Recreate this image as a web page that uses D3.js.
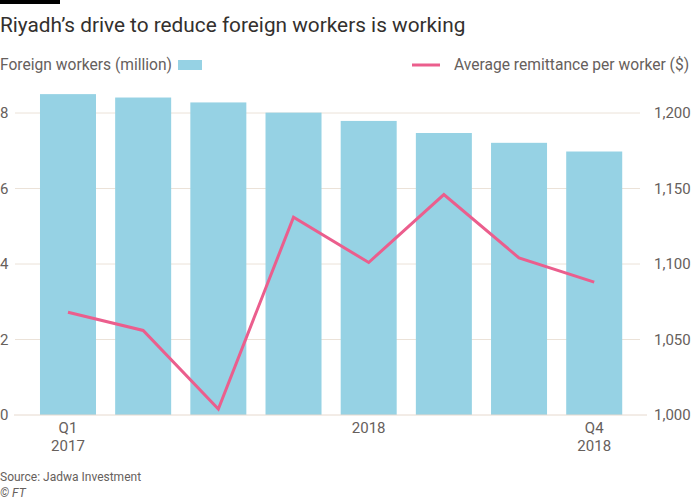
<!DOCTYPE html>
<html><head><meta charset="utf-8">
<script src="https://cdn.jsdelivr.net/npm/d3@7"></script>
<style>
html,body{margin:0;padding:0;background:#fff;}
svg{display:block;}
text{font-family:Roboto, "Noto Sans", sans-serif;}
</style></head>
<body>
<svg id="c" width="700" height="500"></svg>
<script>
const categories = ["Q1 2017","Q2 2017","Q3 2017","Q4 2017","Q1 2018","Q2 2018","Q3 2018","Q4 2018"];
const foreignWorkers = [8.50, 8.41, 8.28, 8.01, 7.79, 7.47, 7.21, 6.98];
const remittance = [1068, 1056, 1004, 1131, 1101, 1146, 1104, 1088];
const tickLabelsTop = ["Q1","","","","2018","","","Q4"];
const tickLabelsBottom = ["2017","","","","","","","2018"];
const leftTicks = [0,2,4,6,8];
const rightTicks = [1000,1050,1100,1150,1200];

const svg = d3.select("#c");
const grey = "#66605c";

const x = d3.scaleBand().domain(categories).range([30.4, 631.8]).paddingInner(0.255).paddingOuter(0.1275);
const yL = d3.scaleLinear().domain([0,8]).range([415,113]);
const yR = d3.scaleLinear().domain([1000,1200]).range([415,113]);

// top black bar
svg.append("rect").attr("x",0).attr("y",0).attr("width",60).attr("height",4).attr("fill","#000");

// title
svg.append("text").attr("x",0).attr("y",32).attr("font-size",20.8).attr("fill","#33302e")
  .text("Riyadh’s drive to reduce foreign workers is working");

// legend
svg.append("text").attr("x",0).attr("y",70).attr("font-size",15.6).attr("fill",grey).text("Foreign workers (million)");
svg.append("rect").attr("x",178).attr("y",60).attr("width",24).attr("height",10).attr("fill","#96d2e4");
svg.append("line").attr("x1",412).attr("x2",440).attr("y1",65).attr("y2",65).attr("stroke","#eb5e8d").attr("stroke-width",3);
svg.append("text").attr("x",454).attr("y",70).attr("font-size",15.6).attr("fill",grey).text("Average remittance per worker ($)");

// gridlines
svg.append("g").selectAll("line").data(leftTicks.filter(d=>d>0)).join("line")
  .attr("x1",15).attr("x2",640).attr("y1",d=>yL(d)).attr("y2",d=>yL(d))
  .attr("stroke","#ebe2d8").attr("stroke-width",1);

// left axis
const gL = svg.append("g").attr("transform","translate(0,0)")
  .call(d3.axisLeft(yL).tickValues(leftTicks).tickSize(0).tickFormat(d3.format("d")));
gL.select(".domain").remove();
gL.selectAll("text").attr("x",0).attr("text-anchor","start").attr("dy","0.32em")
  .attr("font-size",15).attr("fill",grey).attr("font-family","Roboto, sans-serif");

// right axis
const gR = svg.append("g").attr("transform","translate(654,0)")
  .call(d3.axisRight(yR).tickValues(rightTicks).tickSize(0).tickFormat(d3.format(",")));
gR.select(".domain").remove();
gR.selectAll("text").attr("x",0).attr("text-anchor","start").attr("dy","0.32em")
  .attr("font-size",15).attr("fill",grey).attr("font-family","Roboto, sans-serif");

// bars
svg.append("g").selectAll("rect").data(categories).join("rect")
  .attr("x",d=>x(d)).attr("width",x.bandwidth())
  .attr("y",(d,i)=>yL(foreignWorkers[i])).attr("height",(d,i)=>yL(0)-yL(foreignWorkers[i]))
  .attr("fill","#96d2e4");

// baseline
svg.append("line").attr("x1",14).attr("x2",647).attr("y1",yL(0)).attr("y2",yL(0))
  .attr("stroke","#e6d9ce").attr("stroke-width",1);

// line
const line = d3.line().x((d,i)=>x(categories[i])+x.bandwidth()/2).y(d=>yR(d));
svg.append("path").datum(remittance).attr("d",line).attr("fill","none")
  .attr("stroke","#eb5e8d").attr("stroke-width",3).attr("stroke-linejoin","miter");

// x axis labels
const gX = svg.append("g").attr("transform","translate(0,"+yL(0)+")")
  .call(d3.axisBottom(x).tickSize(0).tickFormat((d,i)=>tickLabelsTop[i]));
gX.select(".domain").remove();
gX.selectAll("text").attr("y",18).attr("dy","0").attr("font-size",15).attr("fill",grey)
  .attr("font-family","Roboto, sans-serif");
svg.append("g").selectAll("text").data(categories).join("text")
  .attr("x",d=>x(d)+x.bandwidth()/2).attr("y",451).attr("text-anchor","middle")
  .attr("font-size",15).attr("fill",grey).text((d,i)=>tickLabelsBottom[i]);

// source
svg.append("text").attr("x",0).attr("y",481).attr("font-size",12).attr("fill",grey).text("Source: Jadwa Investment");
svg.append("text").attr("x",0).attr("y",497).attr("font-size",12).attr("fill",grey).attr("font-style","italic").text("© FT");
</script>
</body></html>
